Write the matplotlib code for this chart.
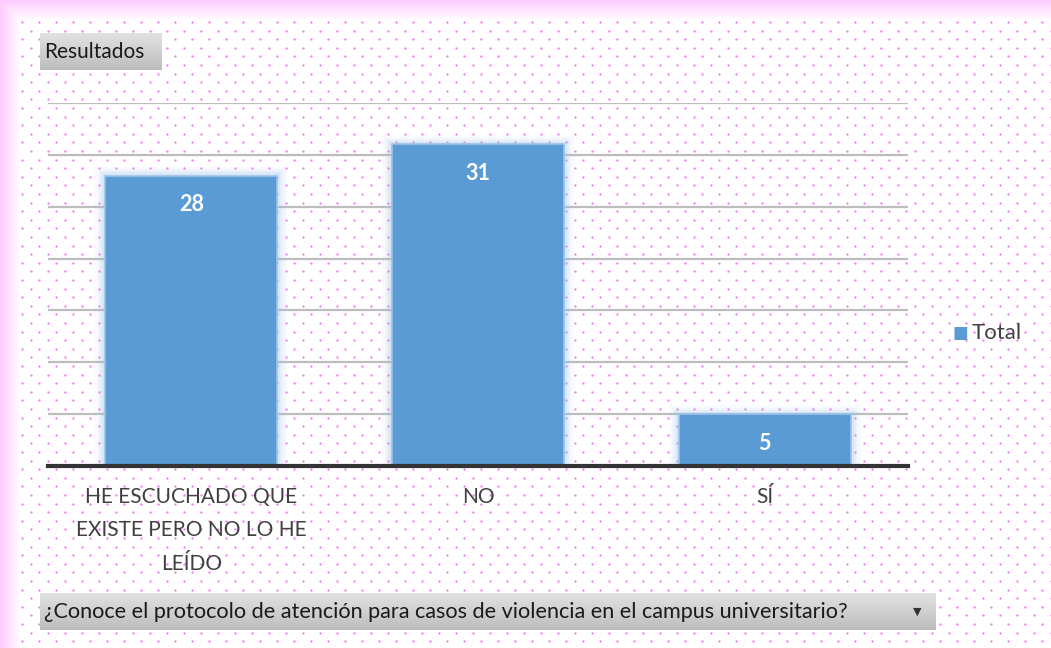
import numpy as np
import matplotlib.pyplot as plt

# Datos
categorias = ["HE ESCUCHADO QUE\nEXISTE PERO NO LO HE\nLEÍDO", "NO", "SÍ"]
valores = [28, 31, 5]
serie = "Total"
titulo_filtro = "Resultados"
pregunta = "¿Conoce el protocolo de atención para casos de violencia en el campus universitario?"

plt.rcParams['font.family'] = ['Lato', 'DejaVu Sans']

W, H = 1051, 648
fig = plt.figure(figsize=(W / 100, H / 100), dpi=100)
fig.patch.set_facecolor("white")

# Fondo: borde rosa y patron de puntos
bg = fig.add_axes([0, 0, 1, 1], zorder=-10)
bg.set_xlim(0, W)
bg.set_ylim(H, 0)
bg.axis("off")
xx = np.arange(W)
yy = np.arange(H)
borde_x = np.clip(1 - xx / 20.0, 0, 1)
borde_y = np.clip(1 - yy / 20.0, 0, 1)
borde = np.maximum(borde_x[None, :], borde_y[:, None])
img = np.ones((H, W, 4))
img[..., 1] = 0.75
img[..., 3] = borde * 0.8
bg.imshow(img, extent=(0, W, H, 0), interpolation="bilinear")
px, py = [], []
for i, y in enumerate(np.arange(22, H, 8.6)):
    off = 0 if i % 2 == 0 else 8.5
    for x in np.arange(22 + off, W, 17):
        px.append(x)
        py.append(y)
bg.scatter(px, py, s=2.8, color="#f07cf0", linewidths=0)

# Grafico
ax = fig.add_axes([48 / W, 1 - 466 / H, 860 / W, 363 / H])
ax.set_facecolor("none")
x = np.arange(len(categorias))
ancho = 0.6
# brillo alrededor de las barras
for k, a in zip([0.07, 0.05, 0.035, 0.02], [0.07, 0.09, 0.12, 0.16]):
    ax.bar(x, np.array(valores) + k * 12, width=ancho + k, color="#9cc3e8",
           alpha=a, linewidth=0, zorder=2)
ax.bar(x, valores, width=ancho, color="#5b9bd5", edgecolor="#9dc2e6",
       linewidth=1.2, zorder=3)
for xi, v in zip(x, valores):
    ax.annotate(str(v), (xi, v), xytext=(0, -21), textcoords="offset points",
                ha="center", va="center", color="white", fontsize=15.5,
                fontweight="bold", zorder=4)

ax.set_xlim(-0.5, len(categorias) - 0.5)
ax.set_ylim(0, 35)
ax.set_yticks(np.arange(5, 36, 5))
ax.yaxis.grid(True, color="#bdbdbd", linewidth=1.6, zorder=1)
ax.set_axisbelow(True)
ax.tick_params(axis="y", length=0, labelleft=False)
ax.tick_params(axis="x", length=0, pad=15)
ax.set_xticks(x)
ax.set_xticklabels(categorias, fontsize=15, color="#404040", linespacing=1.85, va="top")
for s in ["top", "right", "left"]:
    ax.spines[s].set_visible(False)
ax.spines["bottom"].set_color("#333333")
ax.spines["bottom"].set_linewidth(3)
ax.spines["bottom"].set_zorder(5)

# Leyenda
fig.text(953 / W, 1 - 333 / H, "■", fontsize=12, color="#5b9bd5", va="center", ha="left")
fig.text(972 / W, 1 - 333 / H, serie, fontsize=16, color="#404040", va="center", ha="left")


# Botones
def boton(x0, y0, w, h, texto, size, flecha=False):
    ov = fig.add_axes([x0 / W, 1 - (y0 + h) / H, w / W, h / H], zorder=10)
    ov.axis("off")
    grad = np.linspace(0, 1, 50)[:, None]
    ov.imshow(grad, cmap=plt.matplotlib.colors.LinearSegmentedColormap.from_list(
        "g", ["#e2e2e2", "#bdbdbd"]), aspect="auto", extent=(0, 1, 0, 1), origin="upper")
    ov.set_xlim(0, 1)
    ov.set_ylim(0, 1)
    ov.text(4 / w, 0.5, texto, fontsize=size, color="#1a1a1a", va="center", ha="left")
    if flecha:
        ov.text(1 - 18 / w, 0.5, "▼", fontsize=8, color="#333333", va="center", ha="center",
                family="DejaVu Sans")


boton(40, 33, 122, 37, titulo_filtro, 15)
boton(40, 593, 895, 37, pregunta, 15.6, flecha=True)

fig.savefig("out.png", dpi=100)
